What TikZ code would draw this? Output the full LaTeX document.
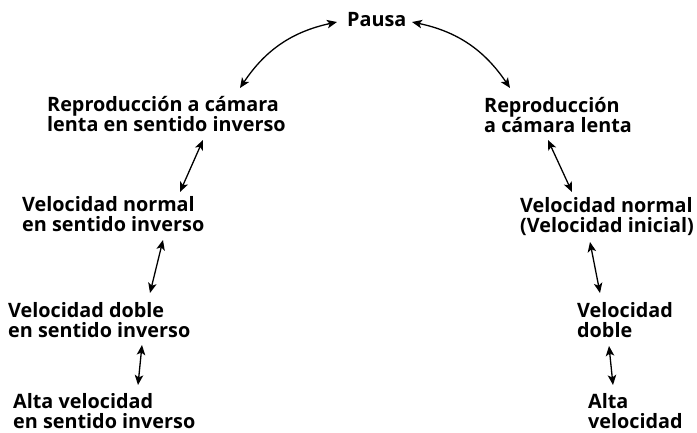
\documentclass[tikz,border=0pt]{standalone}
\usepackage{fontspec}
\setmainfont{Open Sans}
\usetikzlibrary{arrows.meta,calc}
\begin{document}
\begin{tikzpicture}[x=1pt,y=-1pt,
  lbl/.style={anchor=base west,inner sep=0pt,align=left,font=\bfseries\fontsize{19.8}{20}\selectfont},
  conn/.style={{Stealth[length=10pt,width=8.5pt,inset=2.5pt]}-{Stealth[length=10pt,width=8.5pt,inset=2.5pt]},line width=1.3pt}]
\useasboundingbox (0,0) rectangle (697,433);
\node[lbl] (p) at (347,27) {Pausa};
\node[lbl] (l1) at (47,132) {Reproducción a cámara\\lenta en sentido inverso};
\node[lbl] (r1) at (484,133) {Reproducción\\a cámara lenta};
\node[lbl] (l2) at (22,232) {Velocidad normal\\en sentido inverso};
\node[lbl] (r2) at (520,233) {Velocidad normal\\(Velocidad inicial)};
\node[lbl] (l3) at (8,337) {Velocidad doble\\en sentido inverso};
\node[lbl] (r3) at (577,337) {Velocidad\\doble};
\node[lbl] (l4) at (13,428) {Alta velocidad\\en sentido inverso};
\node[lbl] (r4) at (588,428) {Alta\\velocidad};
% arcs
\draw[conn] ($(l1.base west)+(193,-44)$) to[bend left=22] ($(p.base west)+(-10,-5)$);
\draw[conn] ($(p.base west)+(65,-5)$) to[bend left=22] ($(r1.base west)+(26,-45)$);
% left chain
\draw[conn] ($(l1.base west)+(156,8)$) -- ($(l2.base west)+(158,-40)$);
\draw[conn] ($(l2.base west)+(141,8)$) -- ($(l3.base west)+(142,-44)$);
\draw[conn] ($(l3.base west)+(134,8)$) -- ($(l4.base west)+(125,-43)$);
% right chain
\draw[conn] ($(r1.base west)+(64,7)$) -- ($(r2.base west)+(52,-41)$);
\draw[conn] ($(r2.base west)+(70,9)$) -- ($(r3.base west)+(23,-44)$);
\draw[conn] ($(r3.base west)+(32,9)$) -- ($(r4.base west)+(25,-43)$);
\end{tikzpicture}
\end{document}
